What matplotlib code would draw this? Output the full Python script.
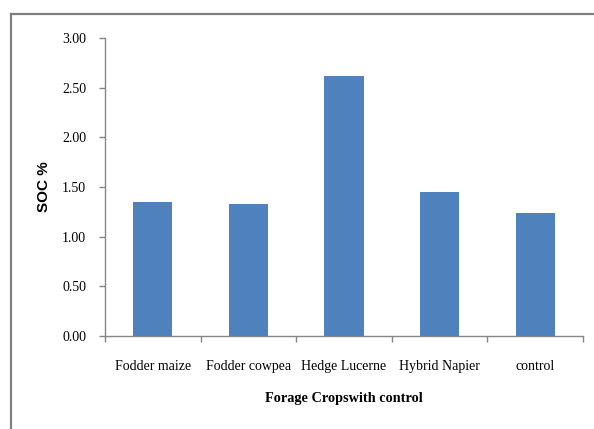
import matplotlib
matplotlib.use("Agg")
import matplotlib.pyplot as plt
import numpy as np
from matplotlib.lines import Line2D

categories = ["Fodder maize", "Fodder cowpea", "Hedge Lucerne", "Hybrid Napier", "control"]
soc_values = [1.35, 1.33, 2.62, 1.45, 1.24]
y_ticks = [0.0, 0.5, 1.0, 1.5, 2.0, 2.5, 3.0]

plt.rcParams['font.family'] = ['Liberation Serif', 'DejaVu Serif']

fig = plt.figure(figsize=(5.94, 4.29), dpi=100)
ax = fig.add_axes([105/594, 1-336/429, (583-105)/594, (336-38)/429])

x = np.arange(len(categories))
ax.bar(x, soc_values, width=0.41, color='#4F81BD', edgecolor='none', zorder=3)

gray = '#868686'
ax.set_xlim(-0.5, len(categories)-0.5)
ax.set_ylim(0, 3.0)
ax.set_yticks(y_ticks)
ax.set_yticklabels([f"{v:.2f}" for v in y_ticks], fontsize=10)
ax.set_xticks(x)
ax.set_xticklabels(categories, fontsize=10)
ax.set_xticks(np.arange(-0.5, len(categories), 1.0), minor=True)
ax.tick_params(axis='x', which='major', length=0, pad=17)
ax.tick_params(axis='x', which='minor', length=4, color=gray, width=1, direction='out')
ax.tick_params(axis='y', length=4, color=gray, width=1, direction='out', pad=9.5)

for s in ['top', 'right']:
    ax.spines[s].set_visible(False)
for s in ['left', 'bottom']:
    ax.spines[s].set_color(gray)
    ax.spines[s].set_linewidth(1)

ax.set_ylabel("SOC %", fontsize=11, fontweight='bold', family=['Liberation Sans', 'DejaVu Sans'], labelpad=8)
ax.set_xlabel("Forage Cropswith control", fontsize=10.3, fontweight='bold', labelpad=14)

# outer frame (left and top)
fc = '#808080'
fig.add_artist(Line2D([11/594, 11/594], [0, 1-14/429], transform=fig.transFigure, color=fc, linewidth=1.6))
fig.add_artist(Line2D([11/594, 1], [1-14/429, 1-14/429], transform=fig.transFigure, color=fc, linewidth=1.6))

fig.savefig("out.png", dpi=100)
